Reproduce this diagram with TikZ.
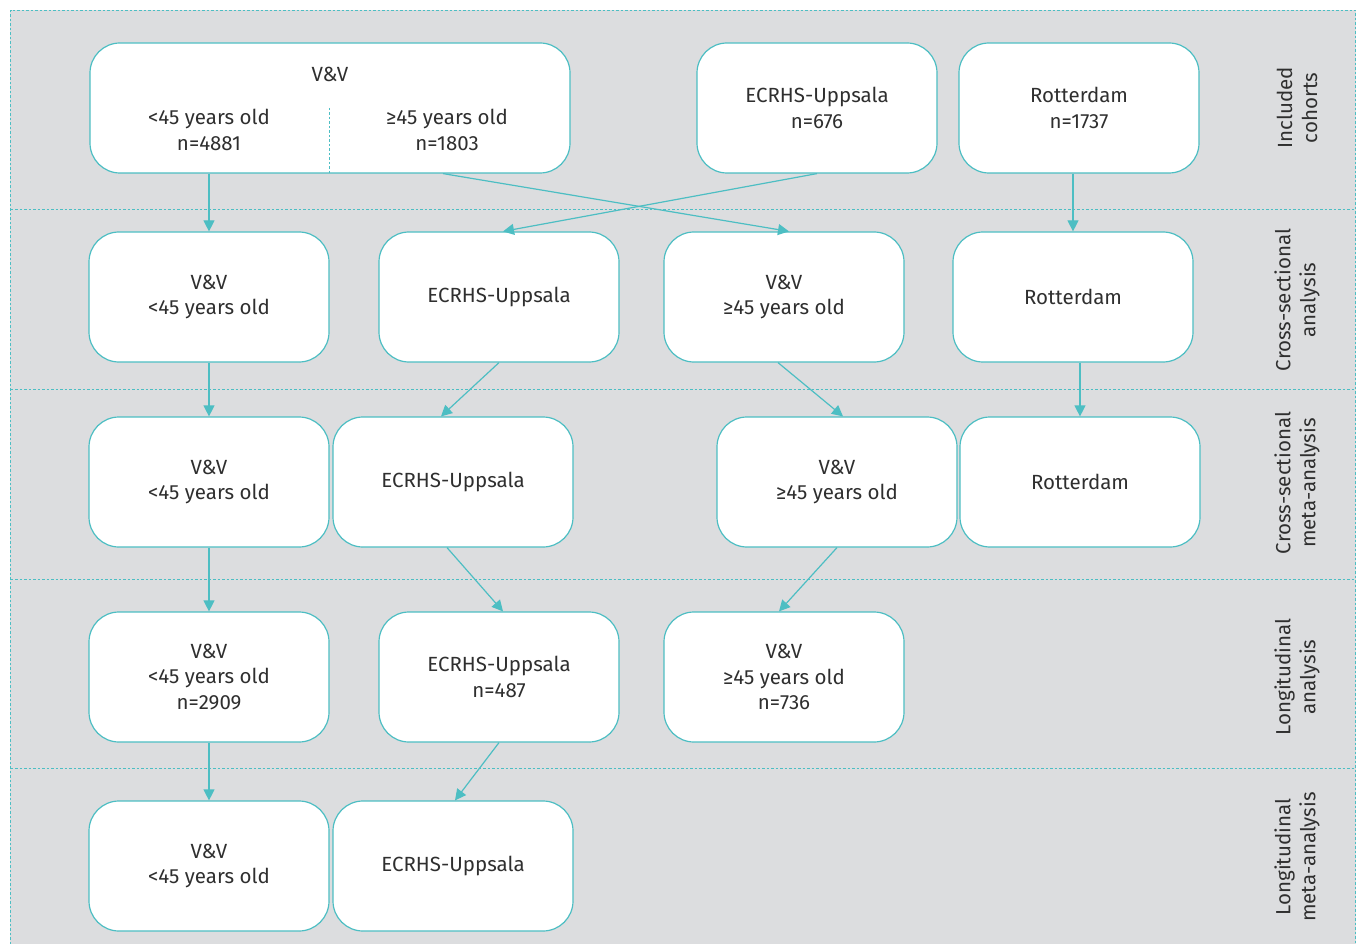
\documentclass[tikz,border=0pt]{standalone}
\usepackage{fontspec}
\setmainfont{Fira Sans}
\usetikzlibrary{arrows.meta}
\definecolor{tealc}{HTML}{4DBEC3}
\definecolor{bgc}{HTML}{DCDDDF}
\definecolor{txtc}{HTML}{2F2F2F}
\begin{document}
\begin{tikzpicture}[x=1pt,y=-1pt,
  box/.style={draw=tealc, line width=1.2pt, fill=white, rounded corners=30pt,
    minimum width=240pt, minimum height=130pt, align=center,
    font=\fontsize{20.5}{25.5}\selectfont, text=txtc, inner sep=0pt},
  lbl/.style={align=center, font=\fontsize{20.5}{25.5}\selectfont, text=txtc, inner sep=0pt},
  side/.style={rotate=90, align=center, font=\fontsize{20.5}{25}\selectfont, text=txtc, inner sep=0pt},
  arr/.style={draw=tealc, line width=1.2pt, -{Triangle[length=11pt,width=11pt]}},
  sepline/.style={draw=tealc, line width=1.4pt, dash pattern=on 2.5pt off 2pt}]
\useasboundingbox (0,0) rectangle (1358,944);
% background and band dividers
\fill[bgc] (10,10) rectangle (1356,944);
\draw[sepline] (10.5,944) -- (10.5,10.5) -- (1355.5,10.5) -- (1355.5,944);
\foreach \yy in {209.5,389.5,579.5,768.5} \draw[sepline] (10.5,\yy) -- (1355.5,\yy);
% side labels
\node[side] (s1) at (1297,108) {Included\\cohorts};
\node[side] (s2) at (1297,300) {Cross-sectional\\analysis};
\node[side] (s3) at (1297,483) {Cross-sectional\\meta-analysis};
\node[side] (s4) at (1297,677) {Longitudinal\\analysis};
\node[side] (s5) at (1297,857) {Longitudinal\\meta-analysis};
% row 1
\node[box, minimum width=480pt] (vv) at (330,108) {};
\node[lbl] (vvt) at (330,74) {V\&V};
\node[lbl] (vlo) at (209,130) {<45 years old\\n=4881};
\node[lbl] (vhi) at (447,130) {≥45 years old\\n=1803};
\draw[sepline] (329.5,108) -- (vv.south -| 329.5,0);
\node[box] (ec1) at (817,108) {ECRHS-Uppsala\\n=676};
\node[box] (rt1) at (1079,108) {Rotterdam\\n=1737};
% row 2
\node[box] (r2a) at (209,297) {V\&V\\<45 years old};
\node[box] (r2b) at (499,297) {ECRHS-Uppsala};
\node[box] (r2c) at (784,297) {V\&V\\≥45 years old};
\node[box] (r2d) at (1073,297) {Rotterdam};
% row 3
\node[box] (r3a) at (209,482) {V\&V\\<45 years old};
\node[box] (r3b) at (453,482) {ECRHS-Uppsala};
\node[box] (r3c) at (837,482) {V\&V\\≥45 years old};
\node[box] (r3d) at (1080,482) {Rotterdam};
% row 4
\node[box] (r4a) at (209,677) {V\&V\\<45 years old\\n=2909};
\node[box] (r4b) at (499,677) {ECRHS-Uppsala\\n=487};
\node[box] (r4c) at (784,677) {V\&V\\≥45 years old\\n=736};
% row 5
\node[box] (r5a) at (209,866) {V\&V\\<45 years old};
\node[box] (r5b) at (453,866) {ECRHS-Uppsala};
% connectors
\draw[arr] (vlo |- vv.south) -- (r2a.north);
\draw[arr] ([xshift=-4pt]vhi |- vv.south) -- ([xshift=5pt]r2c.north);
\draw[arr] (ec1.south) -- ([xshift=4pt]r2b.north);
\draw[arr] (r2d.north |- rt1.south) -- (r2d.north);
\draw[arr] (r2a.south) -- (r3a.north);
\draw[arr] (r2b.south) -- ([xshift=-12pt]r3b.north);
\draw[arr] ([xshift=-6pt]r2c.south) -- ([xshift=6pt]r3c.north);
\draw[arr] (r2d.south -| r3d.north) -- (r3d.north);
\draw[arr] (r3a.south) -- (r4a.north);
\draw[arr] ([xshift=-6pt]r3b.south) -- ([xshift=4pt]r4b.north);
\draw[arr] (r3c.south) -- ([xshift=-5pt]r4c.north);
\draw[arr] (r4a.south) -- (r5a.north);
\draw[arr] (r4b.south) -- ([xshift=2pt]r5b.north);
\end{tikzpicture}
\end{document}
